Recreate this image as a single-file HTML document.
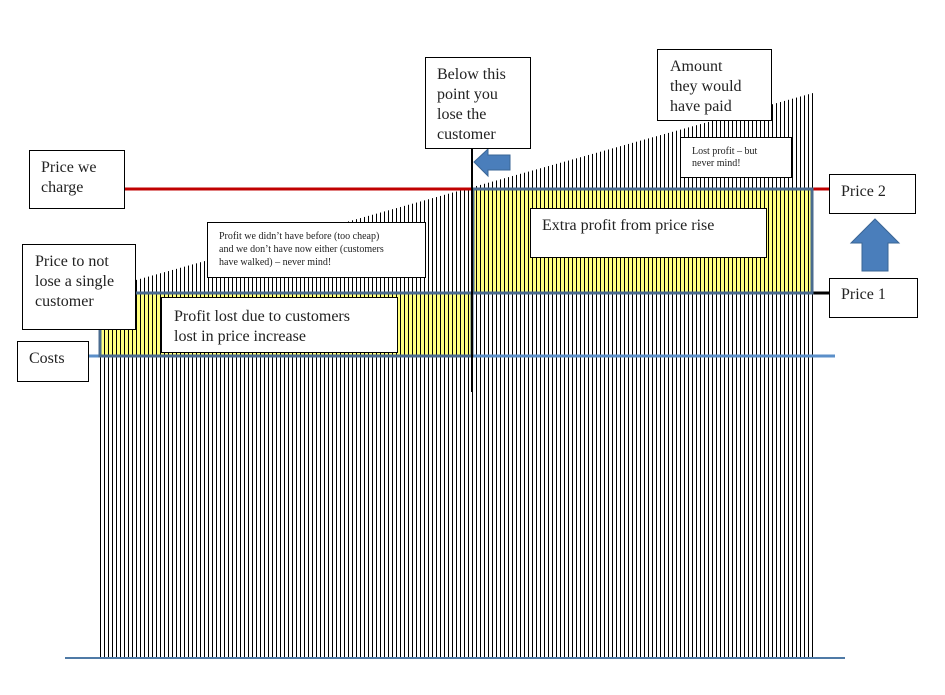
<!DOCTYPE html>
<html><head><meta charset="utf-8"><style>
body{margin:0;background:#fff;}
svg text{font-family:"Liberation Serif",serif;fill:#222;}
</style></head><body>
<svg width="945" height="690" xmlns="http://www.w3.org/2000/svg">
<defs>
<pattern id="st" x="100" y="0" width="4" height="10" patternUnits="userSpaceOnUse">
<rect x="0" y="0" width="1" height="10" fill="#000"/>
</pattern>
</defs>
<rect x="100" y="293" width="372" height="63" fill="#ffff80"/>
<rect x="472" y="189" width="340" height="104" fill="#ffff80"/>
<polygon points="100,290 813,93 813,658 100,658" fill="url(#st)"/>
<line x1="65" y1="658" x2="845" y2="658" stroke="#4f7aa6" stroke-width="2"/>
<line x1="88" y1="356" x2="835" y2="356" stroke="#5b8fc9" stroke-width="3"/>
<line x1="125" y1="189" x2="830" y2="189" stroke="#c00000" stroke-width="3"/>
<line x1="812" y1="293" x2="830" y2="293" stroke="#000" stroke-width="3"/>
<rect x="100" y="293" width="372" height="63" fill="none" stroke="#4a6b8f" stroke-width="3"/>
<rect x="473" y="189" width="339" height="104" fill="none" stroke="#4a6b8f" stroke-width="3"/>
<line x1="472" y1="148" x2="472" y2="392" stroke="#000" stroke-width="2"/>
<polygon points="474,162 488,149 488,155 510,155 510,170 488,170 488,176" fill="#4a7ebb" stroke="#3a6595"/>
<polygon points="875,219 899,243 888,243 888,271 862,271 862,243 851,243" fill="#4a7ebb" stroke="#3a6595"/>
<g fill="#fff" stroke="#000" stroke-width="1">
<rect x="425.5" y="57.5" width="105" height="91"/>
<rect x="657.5" y="49.5" width="114" height="71"/>
<rect x="680.5" y="137.5" width="111" height="40"/>
<rect x="29.5" y="150.5" width="95" height="58"/>
<rect x="207.5" y="222.5" width="218" height="55"/>
<rect x="22.5" y="244.5" width="113" height="85"/>
<rect x="161.5" y="297.5" width="236" height="55"/>
<rect x="17.5" y="341.5" width="71" height="40"/>
<rect x="530.5" y="208.5" width="236" height="49"/>
<rect x="829.5" y="174.5" width="86" height="39"/>
<rect x="829.5" y="278.5" width="88" height="39"/>
</g>
<g font-size="16">
<text x="437" y="79">Below this</text>
<text x="437" y="99">point you</text>
<text x="437" y="119">lose the</text>
<text x="437" y="139">customer</text>
<text x="670" y="71">Amount</text>
<text x="670" y="91">they would</text>
<text x="670" y="111">have paid</text>
<text x="41" y="172">Price we</text>
<text x="41" y="192">charge</text>
<text x="35" y="266">Price to not</text>
<text x="35" y="286">lose a single</text>
<text x="35" y="306">customer</text>
<text x="29" y="363">Costs</text>
<text x="174" y="321">Profit lost due to customers</text>
<text x="174" y="341">lost in price increase</text>
<text x="542" y="230">Extra profit from price rise</text>
<text x="841" y="196">Price 2</text>
<text x="841" y="299">Price 1</text>
</g>
<g font-size="10">
<text x="692" y="154">Lost profit – but</text>
<text x="692" y="166">never mind!</text>
<text x="219" y="239">Profit we didn’t have before (too cheap)</text>
<text x="219" y="252">and we don’t have now either (customers</text>
<text x="219" y="265">have walked) – never mind!</text>
</g>
</svg>
</body></html>
